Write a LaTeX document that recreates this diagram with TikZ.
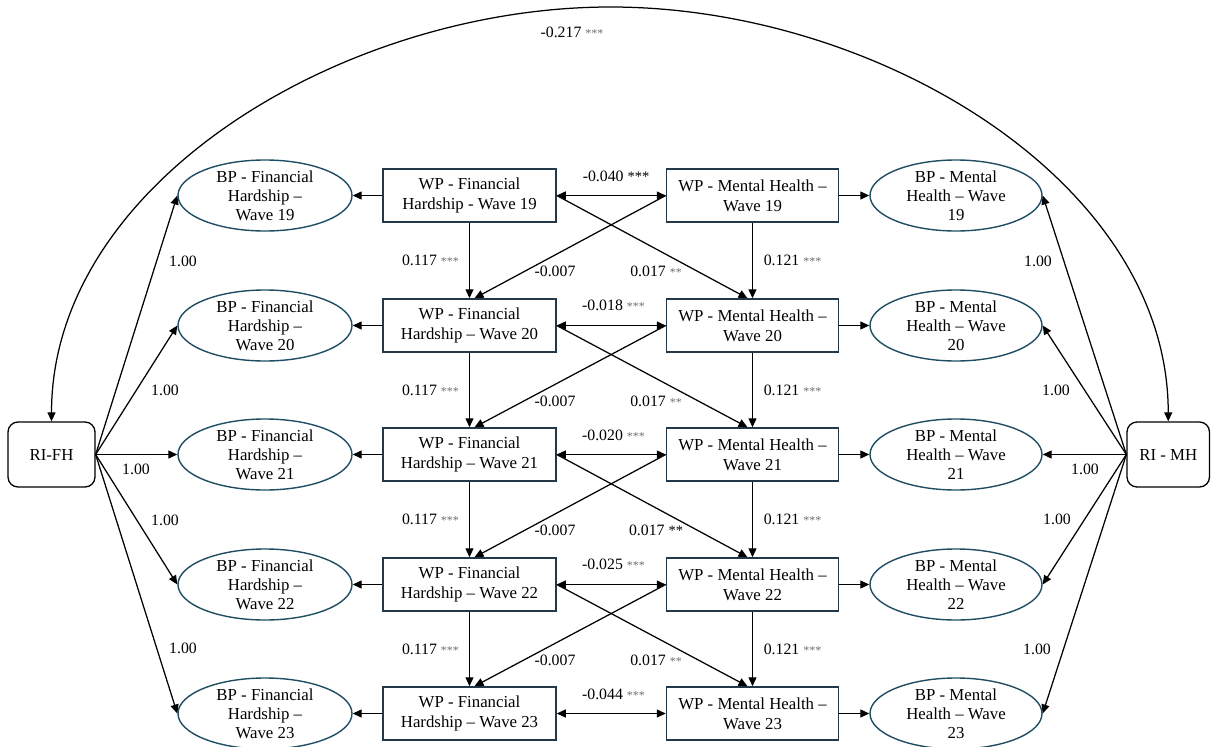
\documentclass[tikz,border=0pt]{standalone}
\usepackage{fontspec}
\setmainfont{Liberation Serif}
\usetikzlibrary{arrows.meta,shapes.geometric}
\definecolor{boxc}{HTML}{23394A}
\definecolor{ellc}{HTML}{1F4D63}
\definecolor{astc}{HTML}{6E6E6E}
\newcommand{\sigs}[1]{\textcolor{astc}{\fontsize{12}{12}\selectfont #1}}
\newcommand{\sigb}[1]{{\fontsize{14.5}{14.5}\selectfont #1}}
\begin{document}
\begin{tikzpicture}[x=1pt,y=-1pt,
  arr/.style={-{Triangle[length=9pt,width=8pt]}, line width=1.25pt},
  darr/.style={{Triangle[length=9pt,width=8pt]}-{Triangle[length=9pt,width=8pt]}, line width=1.25pt},
  wpbox/.style={draw=boxc, line width=1.5pt, minimum width=173pt, minimum height=53pt, inner sep=0pt, align=center, font=\fontsize{16.8}{20}\selectfont},
  bpell/.style={ellipse, draw=ellc, line width=1.4pt, minimum width=174pt, minimum height=71pt, inner sep=0pt},
  bptext/.style={align=center, font=\fontsize{16.8}{19}\selectfont, inner sep=0pt},
  ribox/.style={draw=black, rounded corners=10pt, line width=1.3pt, minimum width=87pt, minimum height=65pt, inner sep=0pt, font=\fontsize{16.8}{20}\selectfont},
  lab/.style={font=\fontsize{15.8}{18}\selectfont, inner sep=0pt}
]
\useasboundingbox (0,0) rectangle (1211,747);

% random intercepts
\node[ribox] (rifh) at (51.5,454.5) {RI-FH};
\node[ribox, minimum width=82.5pt] (rimh) at (1168.25,454.5) {RI - MH};

% within-person financial hardship
\node[wpbox] (fh19) at (469.5,195.5) {WP - Financial\\Hardship - Wave 19};
\node[wpbox] (fh20) at (469.5,325.5) {WP - Financial\\Hardship – Wave 20};
\node[wpbox] (fh21) at (469.5,454.5) {WP - Financial\\Hardship – Wave 21};
\node[wpbox] (fh22) at (469.5,584.5) {WP - Financial\\Hardship – Wave 22};
\node[wpbox] (fh23) at (469.5,713.5) {WP - Financial\\Hardship – Wave 23};

% within-person mental health
\node[wpbox, minimum width=172pt] (mh19) at (752.5,195.5) {WP - Mental Health –\\Wave 19};
\node[wpbox, minimum width=172pt] (mh20) at (752.5,325.5) {WP - Mental Health –\\Wave 20};
\node[wpbox, minimum width=172pt] (mh21) at (752.5,454.5) {WP - Mental Health –\\Wave 21};
\node[wpbox, minimum width=172pt] (mh22) at (752.5,584.5) {WP - Mental Health –\\Wave 22};
\node[wpbox, minimum width=172pt] (mh23) at (752.5,713.5) {WP - Mental Health –\\Wave 23};

% between-person ellipses
\foreach \w/\yy in {19/195.5,20/325.5,21/454.5,22/584.5,23/713.5}{
  \node[bpell, label={[bptext]center:{BP - Financial\\Hardship –\\Wave \w}}] (bf\w) at (265,\yy) {};
  \node[bpell, minimum width=172pt, label={[bptext]center:{BP - Mental\\Health – Wave\\\w}}] (bm\w) at (956,\yy) {};
  \draw[arr] (fh\w.west) -- (bf\w.east);
  \draw[arr] (mh\w.east) -- (bm\w.west);
  \draw[darr] (fh\w.east) -- (mh\w.west);
  \draw[arr] (rifh.east) -- (bf\w.west);
  \draw[arr] (rimh.west) -- (bm\w.east);
}

% autoregressive and cross-lagged paths
\foreach \a/\b in {19/20,20/21,21/22,22/23}{
  \draw[arr] (fh\a.south) -- (fh\b.north);
  \draw[arr] (mh\a.south) -- (mh\b.north);
  \draw[arr] (fh\a.east) -- ([xshift=-5pt]mh\b.north);
  \draw[arr] (mh\a.west) -- ([xshift=5pt]fh\b.north);
}

% top covariance arc
\coordinate (arctop) at (610.5,7);
\draw[darr] (rifh.north) .. controls +(0,-240) and +(-265,0) .. (arctop)
  .. controls +(266,0) and +(0,-240) .. (rimh.north);
\node[lab] (ltop) at (572,32) {-0.217 \sigs{***}};

% covariance labels
\node[lab] (c19) at (616,176) {-0.040 \sigb{***}};
\node[lab] (c20) at (613.5,305.5) {-0.018 \sigs{***}};
\node[lab] (c21) at (613.5,435) {-0.020 \sigs{***}};
\node[lab] (c22) at (613.5,564.5) {-0.025 \sigs{***}};
\node[lab] (c23) at (613.5,694) {-0.044 \sigs{***}};

% path labels
\foreach \yy in {260.5,390,519.5,649}{
  \node[lab] at (430.5,\yy) {0.117 \sigs{***}};
  \node[lab] at (792.5,\yy) {0.121 \sigs{***}};
  \node[lab] at (555,\yy+11) {-0.007};
}
\node[lab] (x1) at (656,271.5) {0.017 \sigs{**}};
\node[lab] (x2) at (656,401) {0.017 \sigs{**}};
\node[lab] (x3) at (656,530.5) {0.017 \sigb{**}};
\node[lab] (x4) at (656,660) {0.017 \sigs{**}};

% loading labels
\node[lab] (lf19) at (183,261) {1.00};
\node[lab] (lf20) at (165,390) {1.00};
\node[lab] (lf21) at (136,469) {1.00};
\node[lab] (lf22) at (165,520) {1.00};
\node[lab] (lf23) at (183,648) {1.00};
\node[lab] (lm19) at (1038,261) {1.00};
\node[lab] (lm20) at (1056,390) {1.00};
\node[lab] (lm21) at (1085,469) {1.00};
\node[lab] (lm22) at (1057,519) {1.00};
\node[lab] (lm23) at (1037,649) {1.00};
\end{tikzpicture}
\end{document}
